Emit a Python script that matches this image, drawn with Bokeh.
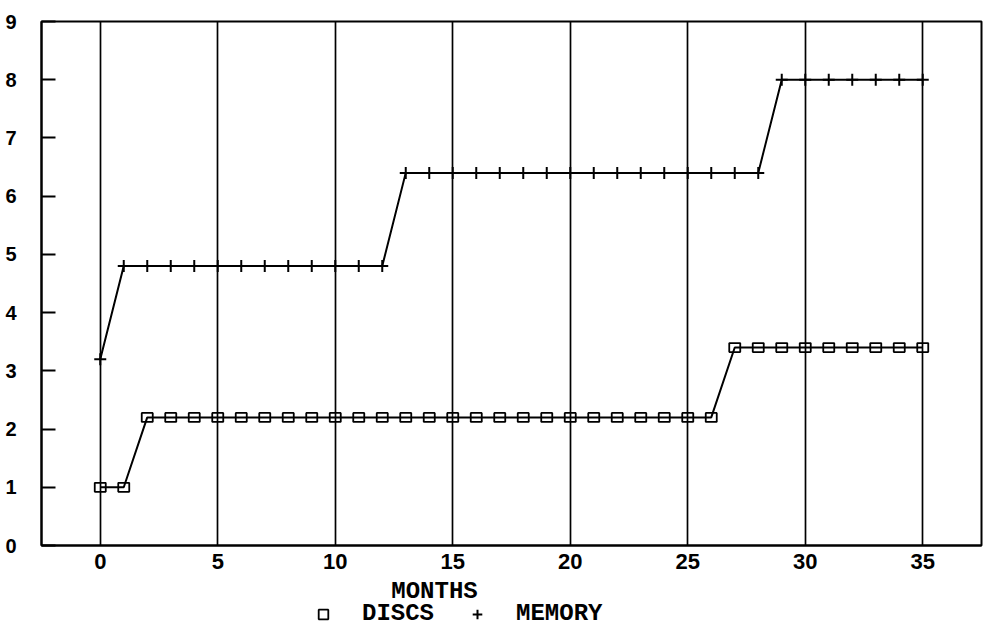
from bokeh.plotting import figure
from bokeh.layouts import column
from bokeh.models import (Range1d, FixedTicker, Label, Legend, LegendItem,
                          ColumnDataSource)
from bokeh.embed import file_html
from bokeh.resources import INLINE

# ---- data ----
months = [0, 1, 2, 3, 4, 5, 6, 7, 8, 9, 10, 11, 12, 13, 14, 15, 16, 17,
          18, 19, 20, 21, 22, 23, 24, 25, 26, 27, 28, 29, 30, 31, 32, 33, 34, 35]
discs = [1.0, 1.0, 2.2, 2.2, 2.2, 2.2, 2.2, 2.2, 2.2, 2.2, 2.2, 2.2, 2.2, 2.2,
         2.2, 2.2, 2.2, 2.2, 2.2, 2.2, 2.2, 2.2, 2.2, 2.2, 2.2, 2.2, 2.2,
         3.4, 3.4, 3.4, 3.4, 3.4, 3.4, 3.4, 3.4, 3.4]
memory = [3.2, 4.8, 4.8, 4.8, 4.8, 4.8, 4.8, 4.8, 4.8, 4.8, 4.8, 4.8, 4.8,
          6.4, 6.4, 6.4, 6.4, 6.4, 6.4, 6.4, 6.4, 6.4, 6.4, 6.4, 6.4, 6.4, 6.4,
          6.4, 6.4, 8.0, 8.0, 8.0, 8.0, 8.0, 8.0, 8.0]
x_ticks = [0, 5, 10, 15, 20, 25, 30, 35]
y_ticks = [0, 1, 2, 3, 4, 5, 6, 7, 8, 9]
x_title = "MONTHS"
series_names = ["DISCS", "MEMORY"]

src = ColumnDataSource(dict(x=months, discs=discs, memory=memory))

W = 987
H_MAIN = 579
H_FOOT = 47

p = figure(width=W, height=H_MAIN, output_backend="svg", toolbar_location=None,
           x_range=Range1d(-2.5, 37.5), y_range=Range1d(0, 9),
           min_border_left=41, min_border_right=6, min_border_top=21,
           min_border_bottom=34)
p.background_fill_color = "white"
p.border_fill_color = "white"
p.outline_line_color = "black"
p.outline_line_width = 2

# grid: vertical lines only
p.xgrid.ticker = FixedTicker(ticks=x_ticks)
p.xgrid.grid_line_color = "black"
p.xgrid.grid_line_width = 1.7
p.ygrid.grid_line_color = None

# axes
p.xaxis.ticker = FixedTicker(ticks=x_ticks)
p.yaxis.ticker = FixedTicker(ticks=y_ticks)
for ax in (p.xaxis[0], p.yaxis[0]):
    ax.axis_line_color = "black"
    ax.axis_line_width = 2
    ax.major_tick_line_color = "black"
    ax.major_tick_line_width = 2
    ax.minor_tick_line_color = None
    ax.major_label_text_color = "black"
    ax.major_label_text_font = "Liberation Sans"
    ax.major_label_text_font_style = "bold"
p.xaxis.major_tick_in = 0
p.xaxis.major_tick_out = 0
p.xaxis.major_label_text_font_size = "22px"
p.xaxis.major_label_standoff = 8
p.yaxis.major_tick_in = 14
p.yaxis.major_tick_out = 0
p.yaxis.major_label_text_font_size = "20px"
p.yaxis.major_label_standoff = 25

# series
p.line("x", "memory", source=src, line_color="black", line_width=2)
p.scatter("x", "memory", source=src, marker="cross", size=12,
          line_color="black", line_width=2)
p.line("x", "discs", source=src, line_color="black", line_width=2)
p.rect("x", "discs", source=src, width=11, height=9, width_units="screen",
       height_units="screen", fill_color=None, line_color="black", line_width=1.8)

# ---- footer: axis title and legend (frame aligned with main frame) ----
f = figure(width=W, height=H_FOOT, output_backend="svg", toolbar_location=None,
           x_axis_location=None, y_axis_location=None,
           x_range=Range1d(-2.5, 37.5), y_range=Range1d(-30, -20),
           min_border_left=0, min_border_right=0,
           min_border_top=0, min_border_bottom=0)
f.outline_line_color = None
f.background_fill_color = "white"
f.border_fill_color = "white"
f.xgrid.visible = False
f.ygrid.visible = False

f.add_layout(Label(x=393, y=35, x_units="screen", y_units="screen",
                   text=x_title, text_font="Liberation Mono",
                   text_font_style="bold", text_font_size="24px",
                   text_align="center", text_baseline="middle",
                   text_color="black"))

# legend key renderers (series data lies outside this strip's view)
leg_sq = f.scatter("x", "discs", source=src, marker="square", size=11,
                   fill_color=None, line_color="black", line_width=1.8)
leg_cr = f.scatter("x", "memory", source=src, marker="cross", size=13,
                   line_color="black", line_width=2)
legend = Legend(items=[LegendItem(label=series_names[0], renderers=[leg_sq]),
                       LegendItem(label=series_names[1], renderers=[leg_cr])],
                orientation="horizontal", location=(267, -1),
                glyph_width=30, glyph_height=24, label_height=24,
                label_standoff=24, spacing=28, padding=0, margin=0,
                border_line_color=None, background_fill_alpha=0,
                label_text_font="Liberation Mono", label_text_font_style="bold",
                label_text_font_size="24px", label_text_color="black")
f.add_layout(legend, "center")

layout = column(p, f, spacing=0)
open("out.html", "w").write(file_html(layout, INLINE))
